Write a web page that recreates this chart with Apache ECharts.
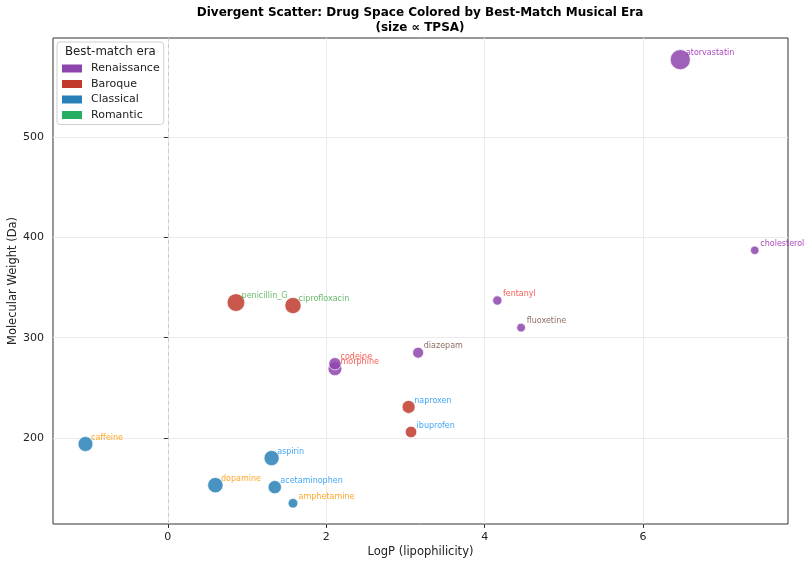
<!DOCTYPE html>
<html>
<head>
<meta charset="utf-8">
<script src="https://cdn.jsdelivr.net/npm/echarts@6/dist/echarts.min.js"></script>
<style>
  html, body { margin: 0; padding: 0; background: #fff; }
  #chart { width: 811px; height: 566px; }
</style>
</head>
<body>
<div id="chart"></div>
<script>
// values
var drugNames = ['atorvastatin', 'cholesterol', 'fentanyl', 'fluoxetine', 'diazepam', 'morphine', 'codeine',
                 'penicillin_G', 'ciprofloxacin', 'naproxen', 'ibuprofen',
                 'caffeine', 'aspirin', 'dopamine', 'acetaminophen', 'amphetamine'];
var logP      = [6.47, 7.41, 4.16, 4.46, 3.16, 2.11, 2.11, 0.86, 1.58, 3.04, 3.07, -1.04, 1.31, 0.60, 1.35, 1.58];
var molWeight = [577, 387, 337, 310, 285, 269, 274, 335, 332, 231, 206, 194, 180, 153, 151, 135];
var tpsa      = [112, 20, 24, 21, 33, 53, 42, 87, 73, 47, 37, 62, 64, 66, 49, 26];
var era       = ['Renaissance', 'Renaissance', 'Renaissance', 'Renaissance', 'Renaissance', 'Renaissance', 'Renaissance',
                 'Baroque', 'Baroque', 'Baroque', 'Baroque',
                 'Classical', 'Classical', 'Classical', 'Classical', 'Classical'];
var drugClass = ['lipid', 'lipid', 'opioid', 'psych', 'psych', 'opioid', 'opioid',
                 'antibiotic', 'antibiotic', 'nsaid', 'nsaid',
                 'stimulant', 'nsaid', 'stimulant', 'nsaid', 'stimulant'];
var eraNames = ['Renaissance', 'Baroque', 'Classical', 'Romantic'];
var xTicks = [0, 2, 4, 6];
var yTicks = [200, 300, 400, 500];

var eraColors = { Renaissance: '#8e44ad', Baroque: '#c0392b', Classical: '#2980b9', Romantic: '#27ae60' };
var classColors = { lipid: '#9c27b0', opioid: '#f44336', psych: '#795548', antibiotic: '#4caf50',
                    nsaid: '#2196f3', stimulant: '#ff9800' };
var FONT = 'DejaVu Sans';

function dotSize(t) { return 1.9 * Math.sqrt(t); }

var series = eraNames.map(function (e) {
  var pts = [];
  for (var i = 0; i < drugNames.length; i++) {
    if (era[i] !== e) continue;
    var s = dotSize(tpsa[i]);
    pts.push({
      name: drugNames[i],
      value: [logP[i], molWeight[i], tpsa[i]],
      // label sits a fixed few px up-right of the dot centre
      label: { color: classColors[drugClass[i]], position: [s / 2 + 6, s / 2 - 6] }
    });
  }
  return {
    name: e,
    type: 'scatter',
    data: pts,
    symbolSize: function (v) { return dotSize(v[2]); },
    itemStyle: { color: eraColors[e], opacity: 0.85, borderColor: '#fff', borderWidth: 0.8 },
    label: {
      show: true,
      formatter: '{b}',
      align: 'left',
      verticalAlign: 'middle',
      fontSize: 8,
      fontFamily: FONT
    },
    labelLayout: { hideOverlap: false },
    z: 3
  };
});

// vertical dashed reference line at logP = 0
series.push({
  type: 'scatter',
  data: [],
  silent: true,
  z: 1,
  markLine: {
    silent: true,
    symbol: 'none',
    label: { show: false },
    lineStyle: { color: '#cccccc', type: [4, 3], width: 1 },
    data: [{ xAxis: 0 }]
  }
});

var myChart = echarts.init(document.getElementById('chart'));
myChart.setOption({
  backgroundColor: '#fff',
  animation: false,
  title: {
    text: 'Divergent Scatter: Drug Space Colored by Best-Match Musical Era\n(size \u221d TPSA)',
    left: 415,
    top: 0,
    textAlign: 'center',
    textStyle: { fontSize: 12, fontWeight: 'bold', lineHeight: 15, fontFamily: FONT, color: '#000' }
  },
  grid: {
    left: 53, right: 23, top: 38, bottom: 42,
    outerBoundsMode: 'none',
    containLabel: false,
    show: true, borderColor: '#333', borderWidth: 1, backgroundColor: '#fff'
  },
  legend: {
    orient: 'vertical',
    left: 57,
    top: 42,
    data: eraNames,
    icon: 'rect',
    itemWidth: 20,
    itemHeight: 8,
    itemGap: 2.5,
    padding: [20, 4, 3, 5],
    backgroundColor: 'rgba(255,255,255,0.9)',
    borderColor: '#d0d0d0',
    borderWidth: 1,
    borderRadius: 3,
    itemStyle: { opacity: 1, borderWidth: 0 },
    textStyle: { fontSize: 11, color: '#222', fontFamily: FONT, lineHeight: 13, padding: [0, 0, 0, 4] }
  },
  graphic: [{
    type: 'text',
    left: 65,
    top: 46,
    z: 100,
    style: { text: 'Best-match era', font: '11.8px "DejaVu Sans"', fill: '#222' }
  }],
  xAxis: {
    type: 'value',
    min: -1.45,
    max: 7.83,
    name: 'LogP (lipophilicity)',
    nameLocation: 'middle',
    nameGap: 22,
    nameMoveOverlap: false,
    nameTextStyle: { fontSize: 11.5, fontFamily: FONT, color: '#222' },
    axisLine: { show: false },
    axisTick: { show: true, inside: false, length: 4, customValues: xTicks, lineStyle: { color: '#333' } },
    axisLabel: { customValues: xTicks, fontSize: 11, fontFamily: FONT, color: '#222', margin: 8 },
    splitLine: { show: true, lineStyle: { color: '#ebebeb', width: 1 } }
  },
  yAxis: {
    type: 'value',
    min: 114.3,
    max: 598.6,
    name: 'Molecular Weight (Da)',
    nameLocation: 'middle',
    nameGap: 34,
    nameMoveOverlap: false,
    nameTextStyle: { fontSize: 11.5, fontFamily: FONT, color: '#222' },
    axisLine: { show: false },
    axisTick: { show: true, inside: false, length: 4, customValues: yTicks, lineStyle: { color: '#333' } },
    axisLabel: { customValues: yTicks, fontSize: 11, fontFamily: FONT, color: '#222', margin: 9 },
    splitLine: { show: true, lineStyle: { color: '#ebebeb', width: 1 } }
  },
  series: series
});
</script>
</body>
</html>
